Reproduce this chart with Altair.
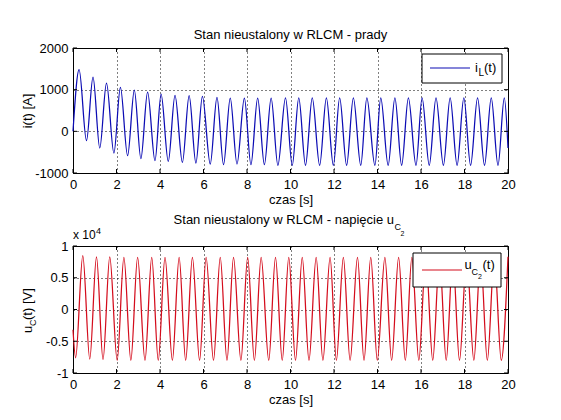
import altair as alt
import pandas as pd

# ---------------- data ----------------
# current i_L(t): extremes of the oscillation [s], [A]
T_I = [0.00, 0.28, 0.62, 0.92, 1.23, 1.54, 1.88, 2.18, 2.51, 2.82,
       3.12, 3.43, 3.77, 4.05, 4.38, 4.69, 5.03, 5.34, 5.65, 5.95,
       6.31, 6.62, 6.92, 7.23, 7.54, 7.88, 8.18, 8.49, 8.80, 9.11,
       9.42, 9.77, 10.08, 10.38, 10.69, 11.00, 11.34, 11.65, 11.97, 12.26,
       12.58, 12.89, 13.23, 13.51, 13.88, 14.15, 14.49, 14.80, 15.11, 15.42,
       15.77, 16.05, 16.38, 16.69, 17.03, 17.34, 17.66, 17.97, 18.28, 18.60,
       18.92, 19.23, 19.54, 19.83, 20.00]
I_VALS = [0, 1480, -224, 1304, -400, 1160, -520, 1056, -584, 992,
          -656, 944, -704, 896, -720, 864, -744, 856, -760, 840,
          -784, 816, -800, 800, -784, 800, -800, 800, -800, 800,
          -816, 800, -816, 800, -816, 800, -816, 800, -816, 800,
          -816, 800, -816, 800, -816, 800, -816, 800, -816, 800,
          -816, 800, -816, 800, -816, 800, -816, 800, -816, 800,
          -816, 800, -816, 800, -400]

# voltage u_C2(t): extremes of the oscillation [s], [V]
T_U = [0.00, 0.12, 0.45, 0.77, 1.08, 1.38, 1.69, 2.03, 2.34, 2.66,
       2.97, 3.31, 3.62, 3.92, 4.23, 4.57, 4.88, 5.18, 5.49, 5.82,
       6.12, 6.46, 6.77, 7.08, 7.38, 7.72, 8.03, 8.34, 8.65, 9.00,
       9.31, 9.62, 9.92, 10.23, 10.54, 10.85, 11.18, 11.49, 11.82, 12.11,
       12.43, 12.74, 13.08, 13.38, 13.69, 13.99, 14.34, 14.65, 14.97, 15.28,
       15.58, 15.90, 16.22, 16.54, 16.85, 17.16, 17.46, 17.77, 18.10, 18.43,
       18.74, 19.05, 19.37, 19.69, 20.00]
U_VALS = [-3200, -7600, 8500, -7800, 8300, -7900, 8300, -8000, 8200, -8000,
          8200, -8000, 8200, -8000, 8200, -8000, 8200, -8000, 8200, -8000,
          8200, -8000, 8200, -8000, 8200, -8000, 8200, -8000, 8200, -8000,
          8200, -8000, 8200, -8000, 8200, -8000, 8200, -8000, 8200, -8000,
          8200, -8000, 8200, -8000, 8200, -8000, 8200, -8000, 8200, -8000,
          8200, -8000, 8200, -8000, 8200, -8000, 8200, -8000, 8200, -8000,
          8200, -8000, 8200, -8000, 8300]

X_TICKS = [0, 2, 4, 6, 8, 10, 12, 14, 16, 18, 20]
I_TICKS = [-1000, 0, 1000, 2000]
U_TICKS = [-10000, -5000, 0, 5000, 10000]

TITLE_TOP = "Stan nieustalony w RLCM - prady"
TITLE_BOT = "Stan nieustalony w RLCM - napięcie u"
X_TITLE = "czas [s]"
Y_TITLE_TOP = "i(t) [A]"

# ---------------- styling ----------------
FONT = "Liberation Sans"
W, H1, H2 = 435, 125, 127
BLUE = "#0c0cb4"
RED = "#d40c1c"

one = alt.Data(values=[{"a": 1}])
xscale = alt.Scale(domain=[0, 20], nice=False, zero=False)
iscale = alt.Scale(domain=[-1000, 2000], nice=False, zero=False)
uscale = alt.Scale(domain=[-10000, 10000], nice=False, zero=False)

common = dict(grid=True, gridColor="black", gridDash=[1, 3], gridOpacity=1,
              gridWidth=1, domain=False, ticks=False, labelFont=FONT,
              labelFontSize=13, labelColor="black", titleFont=FONT,
              titleFontSize=13, titleFontWeight="normal", titleColor="black",
              labelFlush=False, labelOverlap=False)

xaxis = alt.Axis(values=X_TICKS, title=X_TITLE, labelPadding=5,
                 titlePadding=2, **common)
yaxis_top = alt.Axis(values=I_TICKS, title=Y_TITLE_TOP, labelPadding=5,
                     labelExpr="datum.value + ''", titleX=-41.5,
                     titleY=H1 / 2, titleAngle=270, titleAlign="center",
                     titleBaseline="alphabetic", **common)
yaxis_bot = alt.Axis(values=U_TICKS, title=None, labelPadding=5,
                     labelExpr="datum.value / 10000 + ''", **common)


def txt(text, x, y, size, align="left", angle=None, color="black"):
    kw = dict(text=text, align=align, baseline="alphabetic", fontSize=size,
              font=FONT, color=color)
    if angle is not None:
        kw["angle"] = angle
    return alt.Chart(one).mark_text(**kw).encode(x=alt.value(x), y=alt.value(y))


def box(x1, x2, y1, y2):
    return alt.Chart(one).mark_rect(fill="white", stroke="black",
                                    strokeWidth=1).encode(
        x=alt.value(x1), x2=alt.value(x2), y=alt.value(y1), y2=alt.value(y2))


def hline(x1, x2, y, color):
    return alt.Chart(one).mark_rule(color=color, strokeWidth=1.2).encode(
        x=alt.value(x1), x2=alt.value(x2), y=alt.value(y))


def ticks(yscale, yaxis, yvals, h):
    xt = pd.DataFrame({"t": X_TICKS})
    yt = pd.DataFrame({"v": yvals})
    X = alt.X("t:Q", scale=xscale, axis=xaxis)
    Y = alt.Y("v:Q", scale=yscale, axis=yaxis)
    return [
        alt.Chart(xt).mark_rule(color="black").encode(x=X, y=alt.value(0), y2=alt.value(4)),
        alt.Chart(xt).mark_rule(color="black").encode(x=X, y=alt.value(h - 4), y2=alt.value(h)),
        alt.Chart(yt).mark_rule(color="black").encode(y=Y, x=alt.value(0), x2=alt.value(4)),
        alt.Chart(yt).mark_rule(color="black").encode(y=Y, x=alt.value(W - 4), x2=alt.value(W)),
    ]


# ---------------- top panel ----------------
df_i = pd.DataFrame({"t": T_I, "v": I_VALS})
line_i = alt.Chart(df_i).mark_line(color=BLUE, strokeWidth=1.25,
                                   interpolate="monotone").encode(
    x=alt.X("t:Q", scale=xscale, axis=xaxis),
    y=alt.Y("v:Q", scale=iscale, axis=yaxis_top))

top = alt.layer(
    line_i,
    *ticks(iscale, yaxis_top, I_TICKS, H1),
    box(349, 429, 6, 35),
    hline(357, 397, 20, BLUE),
    txt("i", 402, 24, 13),
    txt("L", 405.5, 28, 10),
    txt("(t)", 411, 24, 13),
    txt(TITLE_TOP, W / 2, -9, 13, align="center"),
).properties(width=W, height=H1)

# ---------------- bottom panel ----------------
df_u = pd.DataFrame({"t": T_U, "v": U_VALS})
line_u = alt.Chart(df_u).mark_line(color=RED, strokeWidth=1.25,
                                   interpolate="monotone").encode(
    x=alt.X("t:Q", scale=xscale, axis=xaxis),
    y=alt.Y("v:Q", scale=uscale, axis=yaxis_bot))

bottom = alt.layer(
    line_u,
    *ticks(uscale, yaxis_bot, U_TICKS, H2),
    box(340, 428, 7, 41),
    hline(349, 389, 24, RED),
    txt("u", 391.5, 23, 13),
    txt("C", 398.5, 29, 9),
    txt("2", 405, 33, 7),
    txt("(t)", 409.5, 23, 13),
    # title with subscripts
    txt(TITLE_BOT, 321, -22, 13, align="right"),
    txt("C", 321.5, -16, 9),
    txt("2", 327.5, -10, 7),
    # exponent label
    txt("x 10", 0, -7, 12),
    txt("4", 23, -12, 9),
    # y-axis title u_C(t) [V]
    txt("u", -41.5, 87, 13, angle=270),
    txt("C", -37.5, 80, 9, angle=270),
    txt("(t) [V]", -41.5, 74, 13, angle=270),
).properties(width=W, height=H2)

chart = alt.vconcat(top, bottom, spacing=6).properties(
    padding={"left": 13, "top": 20, "right": 5, "bottom": 5},
    background="white",
).configure_view(stroke="black", strokeWidth=1)

chart.save("out.html", embed_options={"renderer": "svg", "actions": False})
